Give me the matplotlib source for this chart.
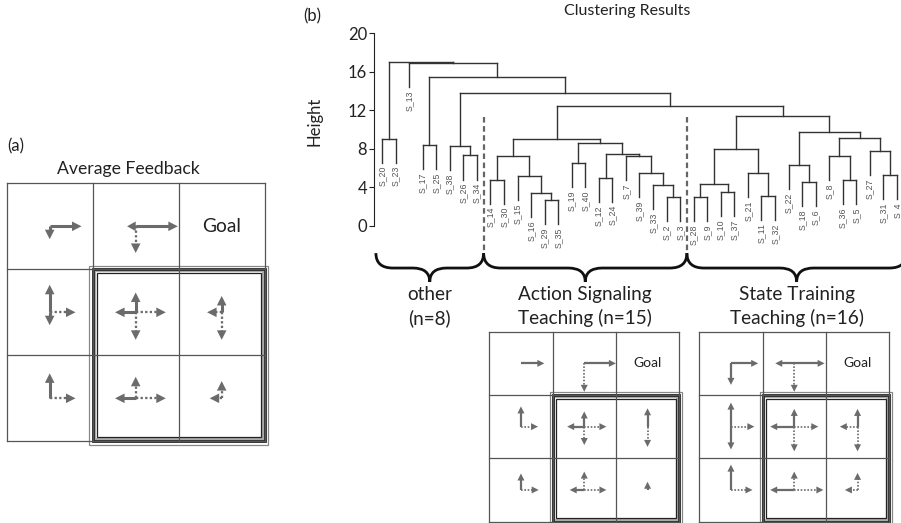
import numpy as np
import matplotlib.pyplot as plt
from matplotlib.patches import Rectangle, Polygon, PathPatch
from matplotlib.path import Path

plt.rcParams['font.family'] = ['Lato', 'DejaVu Sans']

# leaves in dendrogram order
leaf_labels = ["S_20", "S_23", "S_13", "S_17", "S_25", "S_38", "S_26", "S_34",
               "S_14", "S_30", "S_15", "S_16", "S_29", "S_35", "S_19", "S_40",
               "S_12", "S_24", "S_7", "S_39", "S_33", "S_2", "S_3",
               "S_28", "S_9", "S_10", "S_37", "S_21", "S_11", "S_32", "S_22",
               "S_18", "S_6", "S_8", "S_36", "S_5", "S_27", "S_31", "S_4"]

# hclust-style merge table: negative = leaf (1-based position), positive = earlier merge row
merge_left = [-13, -22, -24, -29, -12, -26, -21, 3, -32, -35, -9, -17, -11, -38,
              -20, -28, -31, -15, -34, 11, -19, -7, 12, -37, 8, -6, -4, 18, 20,
              -1, 19, 17, 25, 29, 26, 27, -3, 30]
merge_right = [-14, -23, -25, -30, 1, -27, 2, 6, -33, -36, -10, -18, 5, -39,
               7, 4, 9, -16, 10, 13, 15, -8, 21, 14, 16, 22, -5, 23, 28,
               -2, 24, 31, 32, 33, 34, 35, 36, 37]
merge_height = [2.7, 2.95, 3.0, 3.1, 3.45, 3.5, 4.23, 4.33, 4.5, 4.75, 4.8, 5.0, 5.2, 5.3,
                5.45, 5.5, 6.3, 6.5, 7.2, 7.25, 7.28, 7.3, 7.45, 7.75, 7.95, 8.3, 8.4, 8.6,
                9.0, 9.05, 9.1, 9.7, 11.4, 12.4, 13.75, 15.5, 16.9, 17.05]
hang = 2.5
height_ticks = [0, 4, 8, 12, 16, 20]

cluster_sizes = [8, 15, 16]
cluster_line1 = ["other", "Action Signaling", "State Training"]
cluster_line2 = ["(n=8)", "Teaching (n=15)", "Teaching (n=16)"]

# arrow lengths in cell units, per cell: [up, right, down, left]
avg_solid = np.array([
    [[0, .37, .15, 0], [0, .49, 0, .10], [0, 0, 0, 0]],
    [[.32, 0, .15, 0], [.23, 0, 0, .24], [.19, 0, 0, 0]],
    [[.29, 0, 0, 0], [0, 0, 0, .24], [0, 0, 0, 0]],
])
avg_dotted = np.array([
    [[0, 0, 0, 0], [0, 0, .31, 0], [0, 0, 0, 0]],
    [[0, .30, 0, 0], [0, .35, .32, 0], [0, 0, .32, .17]],
    [[0, .30, 0, 0], [.25, .35, 0, 0], [.20, 0, 0, .14]],
])
action_solid = np.array([
    [[0, .37, 0, 0], [0, .50, 0, 0], [0, 0, 0, 0]],
    [[.32, 0, 0, 0], [.24, 0, 0, .27], [.29, 0, 0, 0]],
    [[.26, 0, 0, 0], [0, 0, 0, .23], [.13, 0, 0, 0]],
])
action_dotted = np.array([
    [[0, 0, 0, 0], [0, 0, .45, 0], [0, 0, 0, 0]],
    [[0, .27, 0, 0], [0, .35, .29, 0], [0, 0, .32, 0]],
    [[0, .28, 0, 0], [.29, .35, 0, 0], [0, 0, 0, 0]],
])
state_solid = np.array([
    [[0, .43, .34, 0], [0, .48, 0, .30], [0, 0, 0, 0]],
    [[.38, 0, .36, 0], [.28, 0, 0, .38], [.28, 0, 0, 0]],
    [[.40, 0, 0, 0], [0, 0, 0, .38], [0, 0, 0, 0]],
])
state_dotted = np.array([
    [[0, 0, 0, 0], [0, 0, .45, 0], [0, 0, 0, 0]],
    [[0, .37, 0, 0], [0, .38, .39, 0], [0, 0, .39, .28]],
    [[0, .34, 0, 0], [.29, .46, 0, 0], [.27, 0, 0, .20]],
])

ARROW = '#6b6b6b'
DIRS = [(0, -1), (1, 0), (0, 1), (-1, 0)]  # up, right, down, left (y grows downward)

fig = plt.figure(figsize=(9.01, 5.23), dpi=100)
ax = fig.add_axes([0, 0, 1, 1])
ax.set_xlim(0, 901)
ax.set_ylim(523, 0)
ax.axis('off')


def draw_arrow(cx, cy, d, length, dotted, lw, head_len, head_w):
    dx, dy = d
    tx, ty = cx + dx * length, cy + dy * length
    shaft = length - head_len * 0.8
    if shaft > 0:
        ax.plot([cx, cx + dx * shaft], [cy, cy + dy * shaft], color=ARROW,
                lw=lw * (0.75 if dotted else 1), ls=(0, (1, 1)) if dotted else '-',
                solid_capstyle='butt', dash_capstyle='butt')
    hl = min(head_len, length)
    bx, by = tx - dx * hl, ty - dy * hl
    px, py = -dy, dx
    ax.add_patch(Polygon([(tx, ty), (bx + px * head_w, by + py * head_w),
                          (bx - px * head_w, by - py * head_w)],
                         closed=True, fc=ARROW, ec='none'))


def draw_grid(x0, y0, cell, solid, dotted, goal_size, lw, head_len, head_w, frame):
    for k in range(4):
        ax.plot([x0 + k * cell] * 2, [y0, y0 + 3 * cell], color='#555', lw=0.9)
        ax.plot([x0, x0 + 3 * cell], [y0 + k * cell] * 2, color='#555', lw=0.9)
    # double frame round the lower-right 2x2 block
    fx, fy, fs = x0 + cell, y0 + cell, 2 * cell
    out_off, in_off = frame
    ax.add_patch(Rectangle((fx - out_off, fy - out_off), fs + 2 * out_off, fs + 2 * out_off,
                           fill=False, ec='#888', lw=0.9))
    ax.add_patch(Rectangle((fx + in_off / 2, fy + in_off / 2), fs - in_off, fs - in_off,
                           fill=False, ec='#aaa', lw=1.6))
    ax.add_patch(Rectangle((fx, fy), fs, fs, fill=False, ec='#222', lw=2.0))
    ax.add_patch(Rectangle((fx + in_off, fy + in_off), fs - 2 * in_off, fs - 2 * in_off,
                           fill=False, ec='#222', lw=0.9))
    ax.text(x0 + 2.5 * cell, y0 + 0.5 * cell, "Goal", fontsize=goal_size,
            ha='center', va='center', color='#222')
    for r in range(3):
        for c in range(3):
            cx, cy = x0 + (c + 0.5) * cell, y0 + (r + 0.5) * cell
            for k, d in enumerate(DIRS):
                if dotted[r, c, k] > 0:
                    draw_arrow(cx, cy, d, dotted[r, c, k] * cell, True, lw, head_len, head_w)
                if solid[r, c, k] > 0:
                    draw_arrow(cx, cy, d, solid[r, c, k] * cell, False, lw, head_len, head_w)


# (a) average feedback
ax.text(7, 146, "(a)", fontsize=12, ha='left', va='center', color='#222')
ax.text(128, 169, "Average Feedback", fontsize=12.7, ha='center', va='center', color='#222')
draw_grid(6.7, 183.3, 86.0, avg_solid, avg_dotted, 13.9, 2.2, 9.5, 4.8, (3.4, 4))

# (b) teaching-style grids
draw_grid(489.3, 331.7, 63.3, action_solid, action_dotted, 10, 1.6, 7, 3.5, (2.7, 3.5))
draw_grid(699.3, 331.7, 63.3, state_solid, state_dotted, 10, 1.6, 7, 3.5, (2.7, 3.5))

ax.text(303, 16, "(b)", fontsize=12, ha='left', va='center', color='#222')
ax.text(627, 11, "Clustering Results", fontsize=11.5, ha='center', va='center', color='#222')

# dendrogram
dax = fig.add_axes([374 / 901, 1 - 225.7 / 523, (901 - 374) / 901, 192.4 / 523])
dax.patch.set_alpha(0)
dax.set_xlim(-0.59, 38.3)
dax.set_ylim(0, 20)
for s in ['top', 'right', 'bottom']:
    dax.spines[s].set_visible(False)
dax.spines['left'].set_bounds(0, 20)
dax.spines['left'].set_color('#222')
dax.set_xticks([])
dax.set_yticks(height_ticks)
dax.tick_params(axis='y', length=3.5, pad=1.5, labelsize=12, colors='#222')
dax.set_ylabel("Height", fontsize=12, color='#222')
dax.yaxis.set_label_coords(-0.098, 0.54)

node_x = {}
for i, (l, r, h) in enumerate(zip(merge_left, merge_right, merge_height), start=1):
    xs = []
    for c in (l, r):
        if c < 0:
            cx, ch = -c - 1, h - hang
            dax.text(cx, ch - 0.35, leaf_labels[cx], rotation=90, ha='center', va='top',
                     fontsize=6.3, family='Liberation Sans', color='#555', clip_on=False)
        else:
            cx, ch = node_x[c], merge_height[c - 1]
        dax.plot([cx, cx], [ch, h], color='#333', lw=1.0, clip_on=False)
        xs.append(cx)
    dax.plot(xs, [h, h], color='#333', lw=1.0, clip_on=False)
    node_x[i] = (xs[0] + xs[1]) / 2


def brace(x0, x1, y_top=-2.85, y_mid=-4.4, y_tip=-5.85, r=1.25):
    xc = (x0 + x1) / 2
    verts = [(x0, y_top), (x0, y_mid), (x0 + r, y_mid), (xc - r, y_mid), (xc, y_mid), (xc, y_tip),
             (xc, y_mid), (xc + r, y_mid), (x1 - r, y_mid), (x1, y_mid), (x1, y_top)]
    codes = [Path.MOVETO, Path.CURVE3, Path.CURVE3, Path.LINETO, Path.CURVE3, Path.CURVE3,
             Path.CURVE3, Path.CURVE3, Path.LINETO, Path.CURVE3, Path.CURVE3]
    dax.add_patch(PathPatch(Path(verts, codes), fill=False, ec='#111', lw=2.0, clip_on=False))
    return xc


bounds = np.concatenate([[-0.45], np.cumsum(cluster_sizes)[:-1] - 0.5, [38.7]])
for b in bounds[1:-1]:
    dax.plot([b, b], [11.3, -2.85], color='#666', lw=1.6, ls=(0, (2.5, 1.6)), clip_on=False)
for k in range(len(cluster_sizes)):
    xc = brace(bounds[k], bounds[k + 1])
    dax.text(xc, -7.2, cluster_line1[k], fontsize=13.7, ha='center', va='center', color='#222')
    dax.text(xc, -9.6, cluster_line2[k], fontsize=13.7, ha='center', va='center', color='#222')

fig.savefig("out.png", dpi=100)
